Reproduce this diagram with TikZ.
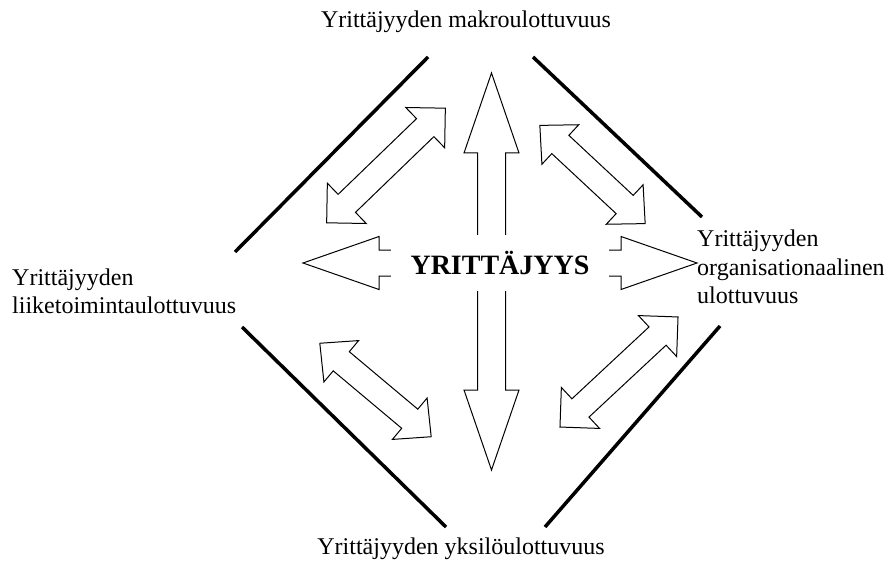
\documentclass[tikz,border=0pt]{standalone}
\usepackage{fontspec}
\setmainfont{Liberation Serif}

% outlined double-headed block arrow:
% #1,#2 centre, #3 angle, #4 half length, #5 head length,
% #6 head half width, #7 shaft half width
\newcommand\blockarrow[7]{%
  \begin{scope}[shift={(#1,#2)}, rotate=#3]
    \draw[outline]
      (-#4,0) -- (-#4+#5,#6) -- (-#4+#5,#7) -- (#4-#5,#7) -- (#4-#5,#6)
      -- (#4,0) -- (#4-#5,-#6) -- (#4-#5,-#7) -- (-#4+#5,-#7)
      -- (-#4+#5,-#6) -- cycle;
  \end{scope}}

\tikzset{
  outline/.style={draw=black, line width=1pt, fill=white, line join=miter},
  rim/.style={line width=3.5pt, line cap=butt},
  dimlabel/.style={font=\fontsize{24}{28}\selectfont, inner sep=0pt},
  core/.style={font=\bfseries\fontsize{28}{32}\selectfont, fill=white,
    minimum width=218pt, minimum height=55pt, inner sep=0pt},
}

\begin{document}
\begin{tikzpicture}[x=1pt, y=-1pt]
  \useasboundingbox (0,0) rectangle (885,561);

  % the four edges of the diamond
  \coordinate (ul1) at (235,252);
  \coordinate (ul2) at (428,57);
  \coordinate (ur1) at (533,57);
  \coordinate (ur2) at (702,217);
  \coordinate (ll1) at (242,327);
  \coordinate (ll2) at (446,527);
  \coordinate (lr1) at (720,326);
  \coordinate (lr2) at (545,527);
  \draw[rim] (ul1) -- (ul2);
  \draw[rim] (ur1) -- (ur2);
  \draw[rim] (ll1) -- (ll2);
  \draw[rim] (lr1) -- (lr2);

  % diagonal arrows between the dimensions
  \blockarrow{386}{165.5}{44}{82.5}{28}{28}{12.5}
  \blockarrow{592.5}{174.5}{-43}{72}{28}{27}{12.5}
  \blockarrow{375.5}{390}{-40}{72.7}{28}{27}{12.5}
  \blockarrow{619}{372}{43}{80.7}{28}{28}{12.5}

  % central cross
  \blockarrow{491.5}{271.5}{90}{198.5}{80}{27.5}{14}
  \blockarrow{500}{263}{0}{197}{76}{26.5}{13}
  \node[core] (core) at (500,263) {YRITTÄJYYS};

  % dimension labels
  \node[dimlabel, anchor=base] (macro) at (466,28) {Yrittäjyyden makroulottuvuus};
  \node[dimlabel, anchor=base] (micro) at (461,554) {Yrittäjyyden yksilöulottuvuus};
  \node[dimlabel, anchor=base west] (biz1) at (12,285) {Yrittäjyyden};
  \node[dimlabel, anchor=base west] (biz2) at (12,313) {liiketoimintaulottuvuus};
  \node[dimlabel, anchor=base west] (org1) at (697,247) {Yrittäjyyden};
  \node[dimlabel, anchor=base west] (org2) at (697,275) {organisationaalinen};
  \node[dimlabel, anchor=base west] (org3) at (697,303) {ulottuvuus};
\end{tikzpicture}
\end{document}
